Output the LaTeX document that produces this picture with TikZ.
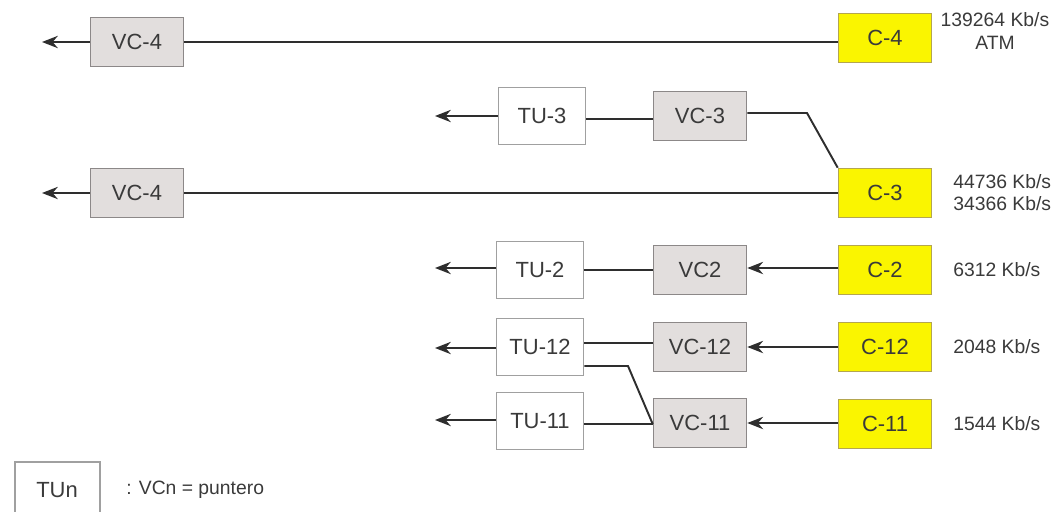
\documentclass[tikz,border=0pt]{standalone}
\usepackage{fontspec}
\setmainfont{Liberation Sans}
\usetikzlibrary{arrows.meta}
\definecolor{vcfill}{HTML}{E2DEDD}
\definecolor{vcdraw}{HTML}{8C8888}
\definecolor{tudraw}{HTML}{A0A0A0}
\definecolor{cfill}{HTML}{FAF500}
\definecolor{cdraw}{HTML}{B4A650}
\definecolor{txt}{HTML}{3A3A3A}
\definecolor{ln}{HTML}{2E2E2E}
\tikzset{
  box/.style={draw, line width=0.9pt, inner sep=0pt, font=\fontsize{12.5}{14}\selectfont, text=txt},
  vcbox/.style={box, fill=vcfill, draw=vcdraw, minimum width=1.86cm, minimum height=0.98cm},
  tubox/.style={box, fill=white, draw=tudraw, minimum width=1.74cm, minimum height=1.14cm},
  cbox/.style={box, fill=cfill, draw=cdraw, minimum width=1.86cm, minimum height=0.98cm},
  rate/.style={font=\fontsize{11}{13}\selectfont, text=txt, inner sep=0pt},
  conn/.style={draw=ln, line width=1.1pt},
  arr/.style={conn, -{Stealth[length=9pt,width=7pt]}},
}
\begin{document}
\begin{tikzpicture}[x=0.02cm, y=-0.02cm]
\useasboundingbox (0,0) rectangle (1062,511);
% row 1
\node[vcbox] (vc4a) at (137,42) {VC-4};
\node[cbox] (c4) at (885,38) {C-4};
\coordinate (o1) at (42,42);
\draw[conn] (c4.west |- 0,42) -- (vc4a.east |- 0,42);
\draw[arr] (vc4a.west |- 0,42) -- (o1);
\node[rate] (r4a) at (995,20) {139264 Kb/s};
\node[rate] (r4b) at (995,43) {ATM};
% row 2
\node[tubox] (tu3) at (542,116) {TU-3};
\node[vcbox] (vc3) at (700,116) {VC-3};
\coordinate (o2) at (435,116);
\coordinate (k3) at (807,113);
\draw[arr] (tu3.west) -- (o2);
\draw[conn] (tu3.east |- 0,119) -- (vc3.west |- 0,119);
% row 3
\node[vcbox] (vc4b) at (137,193) {VC-4};
\node[cbox] (c3) at (885,193) {C-3};
\coordinate (o3) at (42,193);
\draw[conn] (c3.west) -- (vc4b.east);
\draw[arr] (vc4b.west) -- (o3);
\draw[conn] (vc3.east |- k3) -- (k3) -- (c3.north west);
\node[rate, anchor=west] (r3a) at (953,182) {44736 Kb/s};
\node[rate, anchor=west] (r3b) at (953,204) {34366 Kb/s};
% row 4
\node[tubox] (tu2) at (540,270) {TU-2};
\node[vcbox] (vc2) at (700,270) {VC2};
\node[cbox] (c2) at (885,270) {C-2};
\coordinate (o4) at (435,268);
\draw[arr] (tu2.west |- o4) -- (o4);
\draw[conn] (tu2.east) -- (vc2.west);
\draw[arr] (c2.west |- 0,268) -- (vc2.east |- 0,268);
\node[rate, anchor=west] (r2) at (953,270) {6312 Kb/s};
% row 5
\node[tubox] (tu12) at (540,347) {TU-12};
\node[vcbox] (vc12) at (700,347) {VC-12};
\node[cbox] (c12) at (885,347) {C-12};
\coordinate (o5) at (435,348);
\draw[arr] (tu12.west |- o5) -- (o5);
\draw[conn] (tu12.east |- 0,343) -- (vc12.west |- 0,343);
\draw[arr] (c12.west) -- (vc12.east);
\node[rate, anchor=west] (r12) at (953,347) {2048 Kb/s};
% row 6
\node[tubox] (tu11) at (540,421) {TU-11};
\node[vcbox] (vc11) at (700,423) {VC-11};
\node[cbox] (c11) at (885,424) {C-11};
\coordinate (o6) at (435,420);
\coordinate (k12) at (628,366);
\draw[arr] (tu11.west |- o6) -- (o6);
\draw[conn] (tu11.east |- 0,424) -- (vc11.west |- 0,424);
\draw[conn] (tu12.east |- k12) -- (k12) -- (vc11.west |- 0,424);
\draw[arr] (c11.west |- 0,423) -- (vc11.east |- 0,423);
\node[rate, anchor=west] (r11) at (953,424) {1544 Kb/s};
% legend
\draw[draw=tudraw, line width=0.9pt] (15,515) |- (100,462) -- (100,515);
\node[font=\fontsize{12.5}{14}\selectfont, text=txt] (tun) at (57,490) {TUn};
\node[rate, anchor=west] (leg) at (126,490) {: VCn = puntero};
\end{tikzpicture}
\end{document}
